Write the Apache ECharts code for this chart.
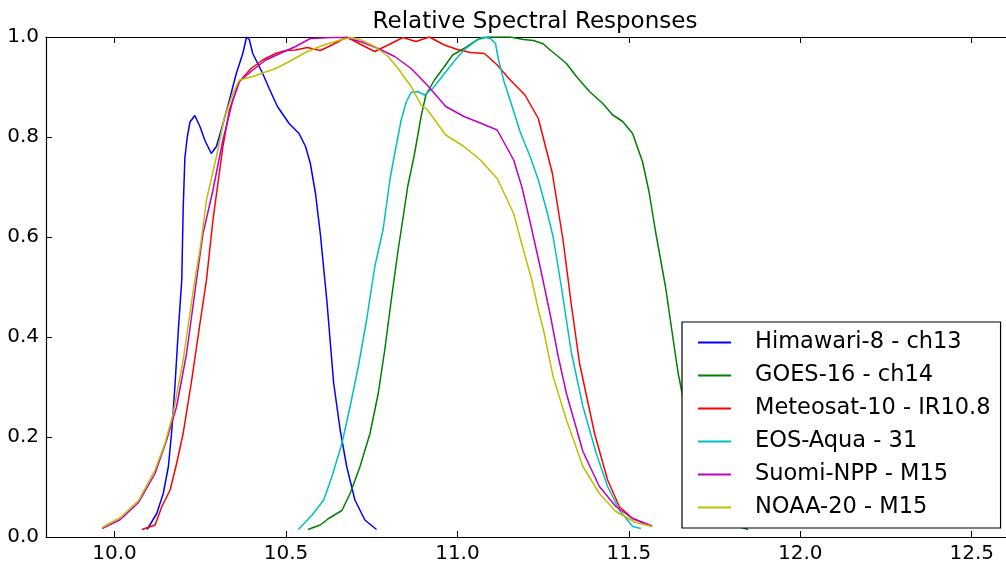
<!DOCTYPE html>
<html>
<head>
<meta charset="utf-8">
<script src="https://cdn.jsdelivr.net/npm/echarts@6/dist/echarts.min.js"></script>
<style>
  html, body { margin: 0; padding: 0; background: #fff; }
  #chart { width: 1006px; height: 567px; }
</style>
</head>
<body>
<div id="chart"></div>
<script>
// wavelength (um), relative response
const himawari8 = [
  [10.095, 0.015], [10.123, 0.047], [10.142, 0.087], [10.157, 0.141], [10.167, 0.214],
  [10.176, 0.301], [10.186, 0.414], [10.196, 0.514], [10.200, 0.654], [10.205, 0.758],
  [10.212, 0.800], [10.220, 0.830], [10.234, 0.843], [10.249, 0.821], [10.263, 0.794],
  [10.282, 0.767], [10.297, 0.781], [10.311, 0.814], [10.335, 0.874], [10.355, 0.927],
  [10.374, 0.967], [10.385, 1.000], [10.393, 0.995], [10.403, 0.967], [10.432, 0.927],
  [10.451, 0.897], [10.475, 0.861], [10.509, 0.827], [10.538, 0.807], [10.557, 0.781],
  [10.571, 0.747], [10.586, 0.687], [10.600, 0.607], [10.619, 0.474], [10.639, 0.308],
  [10.658, 0.214], [10.677, 0.141], [10.701, 0.074], [10.730, 0.034], [10.764, 0.015]
]
const goes16 = [
  [10.564, 0.015], [10.600, 0.024], [10.624, 0.037], [10.663, 0.053], [10.687, 0.087],
  [10.716, 0.141], [10.745, 0.207], [10.769, 0.287], [10.788, 0.374], [10.807, 0.474],
  [10.827, 0.574], [10.836, 0.614], [10.855, 0.701], [10.875, 0.767], [10.894, 0.841],
  [10.908, 0.884], [10.933, 0.914], [10.962, 0.941], [10.986, 0.964], [11.019, 0.977],
  [11.058, 0.995], [11.087, 1.000], [11.154, 1.000], [11.193, 0.995], [11.222, 0.993],
  [11.251, 0.986], [11.270, 0.974], [11.294, 0.961], [11.318, 0.947], [11.347, 0.921],
  [11.385, 0.891], [11.424, 0.867], [11.453, 0.844], [11.482, 0.831], [11.511, 0.807],
  [11.540, 0.750], [11.559, 0.690], [11.578, 0.610], [11.607, 0.500], [11.635, 0.368],
  [11.644, 0.327], [11.665, 0.254], [11.694, 0.184], [11.723, 0.124], [11.751, 0.074],
  [11.789, 0.027], [11.848, 0.015]
]
const meteosat10 = [
  [10.080, 0.015], [10.118, 0.024], [10.138, 0.061], [10.162, 0.094], [10.181, 0.147],
  [10.200, 0.207], [10.225, 0.314], [10.249, 0.427], [10.268, 0.514], [10.287, 0.634],
  [10.316, 0.781], [10.335, 0.854], [10.364, 0.911], [10.398, 0.937], [10.432, 0.954],
  [10.470, 0.967], [10.499, 0.973], [10.528, 0.974], [10.562, 0.979], [10.600, 0.973],
  [10.634, 0.984], [10.677, 1.000], [10.721, 0.984], [10.759, 0.971], [10.798, 0.984],
  [10.841, 0.999], [10.879, 0.991], [10.918, 1.000], [10.962, 0.984], [11.000, 0.975],
  [11.038, 0.969], [11.079, 0.967], [11.116, 0.944], [11.154, 0.914], [11.197, 0.884],
  [11.236, 0.837], [11.277, 0.727], [11.308, 0.594], [11.332, 0.466], [11.356, 0.348],
  [11.400, 0.207], [11.438, 0.114], [11.472, 0.061], [11.511, 0.037], [11.568, 0.021]
]
const eosAqua = [
  [10.536, 0.015], [10.576, 0.044], [10.610, 0.074], [10.634, 0.121], [10.663, 0.187],
  [10.687, 0.261], [10.711, 0.341], [10.735, 0.434], [10.759, 0.541], [10.783, 0.614],
  [10.803, 0.714], [10.817, 0.767], [10.836, 0.834], [10.851, 0.871], [10.865, 0.889],
  [10.884, 0.891], [10.904, 0.884], [10.928, 0.897], [10.962, 0.927], [10.990, 0.951],
  [11.019, 0.974], [11.058, 0.994], [11.077, 1.000], [11.096, 0.997], [11.111, 0.987],
  [11.120, 0.954], [11.135, 0.913], [11.154, 0.873], [11.183, 0.810], [11.212, 0.761],
  [11.236, 0.714], [11.260, 0.654], [11.279, 0.601], [11.303, 0.501], [11.332, 0.370],
  [11.366, 0.261], [11.405, 0.167], [11.438, 0.101], [11.472, 0.054], [11.511, 0.021],
  [11.535, 0.017]
]
const suomiNpp = [
  [9.964, 0.017], [10.017, 0.035], [10.070, 0.069], [10.118, 0.127], [10.152, 0.194],
  [10.181, 0.261], [10.210, 0.367], [10.239, 0.514], [10.258, 0.607], [10.287, 0.694],
  [10.316, 0.794], [10.345, 0.874], [10.364, 0.911], [10.403, 0.934], [10.441, 0.954],
  [10.489, 0.969], [10.528, 0.981], [10.571, 0.997], [10.634, 0.999], [10.673, 0.999],
  [10.721, 0.990], [10.769, 0.977], [10.817, 0.961], [10.865, 0.937], [10.913, 0.903],
  [10.966, 0.861], [11.019, 0.841], [11.067, 0.828], [11.116, 0.814], [11.164, 0.754],
  [11.188, 0.700], [11.212, 0.630], [11.241, 0.541], [11.270, 0.447], [11.294, 0.361],
  [11.318, 0.287], [11.366, 0.171], [11.414, 0.101], [11.462, 0.061], [11.511, 0.037],
  [11.568, 0.022]
]
const noaa20 = [
  [9.964, 0.019], [10.017, 0.039], [10.070, 0.073], [10.118, 0.134], [10.147, 0.187],
  [10.171, 0.247], [10.200, 0.354], [10.234, 0.514], [10.249, 0.574], [10.268, 0.674],
  [10.297, 0.761], [10.321, 0.841], [10.345, 0.887], [10.364, 0.914], [10.403, 0.921],
  [10.470, 0.937], [10.518, 0.954], [10.562, 0.971], [10.610, 0.984], [10.663, 0.995],
  [10.692, 0.999], [10.716, 0.995], [10.759, 0.981], [10.798, 0.961], [10.827, 0.937],
  [10.865, 0.901], [10.894, 0.864], [10.913, 0.854], [10.966, 0.804], [11.019, 0.781],
  [11.067, 0.754], [11.116, 0.717], [11.164, 0.647], [11.190, 0.580], [11.217, 0.514],
  [11.236, 0.454], [11.251, 0.414], [11.279, 0.321], [11.318, 0.234], [11.366, 0.141],
  [11.414, 0.087], [11.462, 0.051], [11.520, 0.029], [11.568, 0.021]
]

const seriesNames = [
  'Himawari-8 - ch13', 'GOES-16 - ch14', 'Meteosat-10 - IR10.8',
  'EOS-Aqua - 31', 'Suomi-NPP - M15', 'NOAA-20 - M15'
]
const seriesData = [himawari8, goes16, meteosat10, eosAqua, suomiNpp, noaa20]
const colors = ['#0000ff', '#008000', '#ff0000', '#00bfbf', '#bf00bf', '#bfbf00']
const xTicks = [10.0, 10.5, 11.0, 11.5, 12.0, 12.5]

const font = 'DejaVu Sans'
const chart = echarts.init(document.getElementById('chart'), null, { renderer: 'canvas' })

const xAxisBase = {
  type: 'value',
  min: 9.8,
  max: 12.6,
  axisLine: { show: true, onZero: false, lineStyle: { color: '#000', width: 1.2 } },
  axisTick: { show: true, inside: true, length: 6, customValues: xTicks, lineStyle: { color: '#000' } },
  splitLine: { show: false }
}

const option = {
  animation: false,
  color: colors,
  title: {
    text: 'Relative Spectral Responses',
    left: 530,
    textAlign: 'center',
    top: 6,
    textStyle: { fontFamily: font, fontSize: 23, fontWeight: 'normal', color: '#000' }
  },
  grid: { left: 46, right: -8, top: 37, bottom: 30 },
  legend: {
    orient: 'vertical',
    left: 682,
    top: 322,
    icon: 'rect',
    itemWidth: 33,
    itemHeight: 2,
    itemGap: 10,
    padding: [9, 10, 9, 16],
    backgroundColor: '#fff',
    borderColor: '#000',
    borderWidth: 1.2,
    borderRadius: 0,
    textStyle: { fontFamily: font, fontSize: 22.5, lineHeight: 22, color: '#000', padding: [0, 0, 0, 19] },
    data: seriesNames
  },
  xAxis: [
    Object.assign({}, xAxisBase, {
      position: 'bottom',
      axisLabel: {
        customValues: xTicks,
        margin: 7,
        fontFamily: font, fontSize: 20, color: '#000',
        formatter: v => v.toFixed(1)
      }
    }),
    Object.assign({}, xAxisBase, {
      position: 'top',
      axisLabel: { show: false }
    })
  ],
  yAxis: [{
    type: 'value',
    min: 0,
    max: 1,
    interval: 0.2,
    axisLine: { show: true, lineStyle: { color: '#000', width: 1.2 } },
    axisTick: { show: true, inside: true, length: 6, lineStyle: { color: '#000' } },
    axisLabel: {
      margin: 7,
      fontFamily: font, fontSize: 20, color: '#000',
      formatter: v => v.toFixed(1)
    },
    splitLine: { show: false }
  }],
  series: seriesData.map((d, i) => ({
    name: seriesNames[i],
    type: 'line',
    xAxisIndex: 0,
    data: d,
    showSymbol: false,
    symbol: 'none',
    lineStyle: { color: colors[i], width: 1.5 },
    itemStyle: { color: colors[i] }
  }))
}

chart.setOption(option)
</script>
</body>
</html>
